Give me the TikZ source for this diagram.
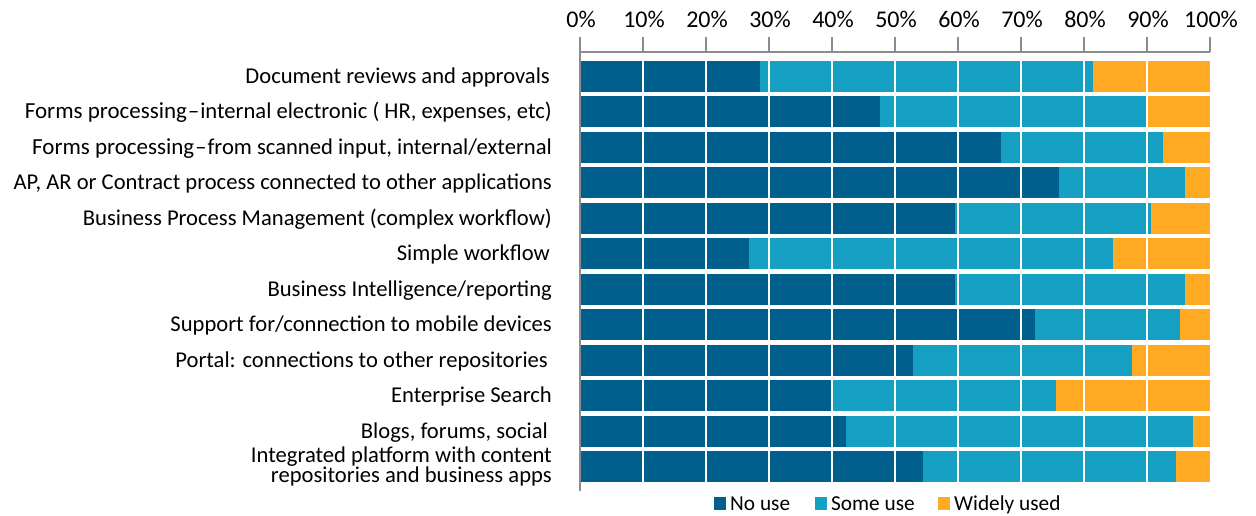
\documentclass[tikz,border=0pt]{standalone}
\usepackage{fontspec}
\setmainfont{Carlito}
\definecolor{dkb}{RGB}{0,95,140}
\definecolor{ltb}{RGB}{21,160,195}
\definecolor{org}{RGB}{255,170,34}
\definecolor{axg}{RGB}{140,140,140}
\begin{document}
\begin{tikzpicture}[x=1pt,y=-1pt,
  lab/.style={anchor=base east,inner sep=0pt,font=\fontsize{22.6}{24}\selectfont},
  tick/.style={anchor=base,inner sep=0pt,font=\fontsize{24}{28}\selectfont},
  leg/.style={anchor=base west,inner sep=0pt,font=\fontsize{21.3}{24}\selectfont},
  axline/.style={draw=axg,line width=2pt},
  grid/.style={draw=white,line width=1.3pt}]
\useasboundingbox (0,0) rectangle (1256,515);
% bars
\foreach \i/\a/\b in {1/28.6/81.4,2/47.6/90.0,3/66.8/92.5,4/76.0/96.0,5/59.5/90.6,6/26.8/84.6,7/59.6/96.0,8/72.2/95.2,9/52.8/87.6,10/40.0/75.6,11/42.2/97.3,12/54.5/94.6}{
  \pgfmathsetmacro\yc{76.5+35.45*(\i-1)}
  \fill[dkb] (580,{\yc-15.5}) rectangle ({580+6.3*\a},{\yc+15.5});
  \fill[ltb] ({580+6.3*\a},{\yc-15.5}) rectangle ({580+6.3*\b},{\yc+15.5});
  \fill[org] ({580+6.3*\b},{\yc-15.5}) rectangle (1210,{\yc+15.5});
}
% white grid lines
\foreach \k in {1,...,9}{
  \draw[grid] ({580+63*\k},60) -- ({580+63*\k},483);
}
% axes
\draw[axline] (580,52) -- (1210,52);
\foreach \k in {0,...,10}{
  \draw[axline] ({580+63*\k},37) -- ({580+63*\k},52);
  \node[tick] (t\k) at ({581+63*\k},27.5) {\pgfmathparse{int(10*\k)}\pgfmathresult\%};
}
\draw[axline] (580,37) -- (580,491);
% category labels
\node[lab] (l1) at (550,{76.5+7}) {Document reviews and approvals};
\node[lab] (l2) at (552,{76.5+35.45+7}) {{\fontsize{23}{24}\selectfont Forms processing}\kern1pt–\kern1pt internal electronic ( HR, expenses, etc)};
\node[lab] (l3) at (552,{76.5+2*35.45+7}) {{\fontsize{23}{24}\selectfont Forms processing}\kern1pt–\kern1pt from scanned input, internal/external};
\node[lab] (l4) at (552,{76.5+3*35.45+7}) {AP, AR or Contract process connected to other applications};
\node[lab] (l5) at (552,{76.5+4*35.45+7}) {Business Process Management (complex workflow)};
\node[lab] (l6) at (550,{76.5+5*35.45+7}) {Simple workflow};
\node[lab] (l7) at (552,{76.5+6*35.45+7}) {Business Intelligence/reporting};
\node[lab] (l8) at (552,{76.5+7*35.45+7}) {Support for/connection to mobile devices};
\node[lab] (l9) at (548,{76.5+8*35.45+7}) {Portal: connections to other repositories};
\node[lab] (l10) at (552,{76.5+9*35.45+7}) {Enterprise Search};
\node[lab] (l11) at (548,{76.5+10*35.45+7}) {Blogs, forums, social};
\node[lab,anchor=east,align=right,font=\fontsize{22.6}{20.5}\selectfont] (l12) at (552,{76.5+11*35.45}) {Integrated platform with content\\repositories and business apps};
% legend
\fill[dkb] (714,497) rectangle (726,510);
\node[leg] (g1) at (730,510) {No use};
\fill[ltb] (815,497) rectangle (827,510);
\node[leg] (g2) at (831,510) {Some use};
\fill[org] (938,497) rectangle (950,510);
\node[leg] (g3) at (954,510) {Widely used};
\end{tikzpicture}
\end{document}
